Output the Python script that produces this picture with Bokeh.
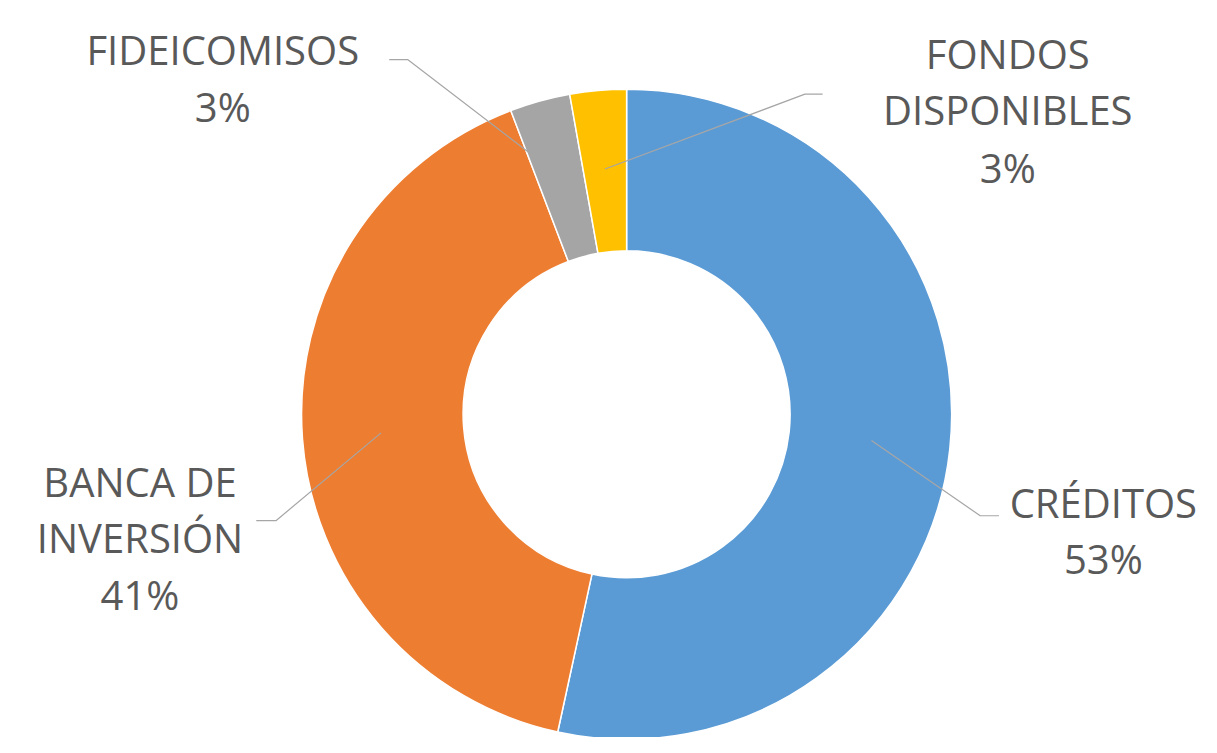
import numpy as np
from bokeh.plotting import figure
from bokeh.models import Range1d, ColumnDataSource
from bokeh.core.properties import value
from bokeh.embed import file_html
from bokeh.resources import INLINE

# ---- data ----
categories = ["CRÉDITOS", "BANCA DE INVERSIÓN", "FIDEICOMISOS", "FONDOS DISPONIBLES"]
shares = [53.4, 40.8, 3.0, 2.8]
colors = ["#5B9BD5", "#ED7D31", "#A5A5A5", "#FFC000"]
label_lines = [["CRÉDITOS"], ["BANCA DE", "INVERSIÓN"], ["FIDEICOMISOS"], ["FONDOS", "DISPONIBLES"]]

# ---- layout: data coordinates are reference pixels, y = -pixel_y ----
W, H = 1201, 737
S = 0.985
X0 = 608 - (W / 2) / S
Y0 = 376 - (H / 2) / S
p = figure(width=W, height=H, output_backend="svg", toolbar_location=None,
           x_range=Range1d(X0, X0 + W / S), y_range=Range1d(-(Y0 + H / S), -Y0),
           min_border=0, outline_line_color=None)
p.axis.visible = False
p.grid.visible = False
p.background_fill_color = "white"
p.border_fill_color = "white"

def Y(py):
    return -py

cx, cy = 634, Y(422)
R_OUT, R_IN = 330, 166

vals = np.array(shares, dtype=float)
frac = vals / vals.sum()
cum = np.concatenate([[0], np.cumsum(frac)])
start = np.pi / 2 - 2 * np.pi * cum[:-1]
end = np.pi / 2 - 2 * np.pi * cum[1:]

src = ColumnDataSource(dict(x=[cx] * 4, y=[cy] * 4, s=start, e=end, c=colors))
p.annular_wedge(x="x", y="y", inner_radius=R_IN, outer_radius=R_OUT,
                start_angle="s", end_angle="e", direction="clock",
                fill_color="c", line_color="white", line_width=1.5, source=src)

# leader lines: anchor from slice mid-angle
mid = np.pi / 2 - 2 * np.pi * (cum[:-1] + cum[1:]) / 2
r_anchor = 250
elbows = [((993, 525), (1012, 525)),   # CRÉDITOS
          ((278, 530), (258, 530)),    # BANCA
          ((412, 62), (393, 62)),      # FIDEICOMISOS
          ((815, 97), (833, 97))]      # FONDOS
for i, ((ex, ey), (hx, hy)) in enumerate(elbows):
    ax = cx + r_anchor * np.cos(mid[i])
    ay = cy + r_anchor * np.sin(mid[i])
    p.line([ax, ex, hx], [ay, Y(ey), Y(hy)], line_color="#A6A6A6", line_width=1.2)

# labels
label_pos = [(1118, [512, 568]),
             (140, [490, 547, 605]),
             (224, [52, 109]),
             (1021, [56, 113, 171])]
for i, (lx, baselines) in enumerate(label_pos):
    lines = label_lines[i] + [f"{round(shares[i])}%"]
    p.text(x=[lx] * len(lines), y=[Y(b) for b in baselines], text=lines,
           text_align="center", text_baseline="alphabetic",
           text_font=value("Open Sans"), text_font_size="40px",
           text_color="#595959")

open("out.html", "w").write(file_html(p, INLINE))
